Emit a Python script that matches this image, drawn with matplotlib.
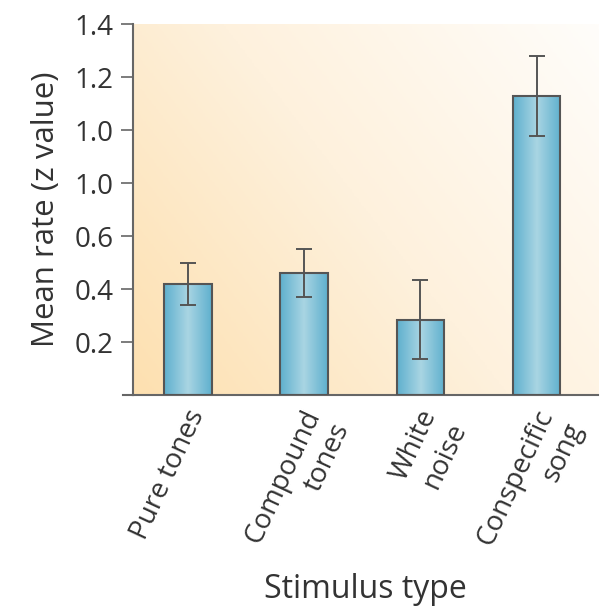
import matplotlib.pyplot as plt
import matplotlib.transforms as mtransforms
import numpy as np
from matplotlib.colors import LinearSegmentedColormap

# Data
categories = ["Pure tones", "Compound\ntones", "White\nnoise", "Conspecific\nsong"]
means = [0.42, 0.46, 0.285, 1.13]
errors = [0.08, 0.09, 0.15, 0.15]
ytick_values = [0.2, 0.4, 0.6, 0.8, 1.0, 1.2, 1.4]
ytick_labels = ["0.2", "0.4", "0.6", "1.0", "1.0", "1.2", "1.4"]

TEXT = "#333333"
EDGE = "#555555"

plt.rcParams["font.family"] = ["Open Sans", "DejaVu Sans"]

fig = plt.figure(figsize=(6, 6.06), dpi=100)
ax = fig.add_axes([0.222, 0.348, 0.775, 0.612])

x = np.arange(len(categories))
width = 0.41
xlim = (-0.47, 3.53)
ax.set_xlim(*xlim)
ax.set_ylim(0, 1.4)

# Background: orange in the lower left fading to white at the upper right
bg_cmap = LinearSegmentedColormap.from_list("bg", ["#fde0b0", "#fef1dd", "#fffdfa"])
gx, gy = np.meshgrid(np.linspace(0, 1, 200), np.linspace(0, 1, 200))
grad = np.clip(0.62 * gx + 0.38 * gy, 0, 1)
ax.imshow(grad, cmap=bg_cmap, extent=[xlim[0], xlim[1], 0, 1.4], origin="lower",
          aspect="auto", zorder=0, vmin=0, vmax=1)

# Bars with a cylindrical shading
bar_cmap = LinearSegmentedColormap.from_list("bar", ["#5fb0ce", "#a9d5e3", "#5fb0ce"])
shade = np.linspace(0, 1, 100).reshape(1, -1)
bars = ax.bar(x, means, width=width, color="none", edgecolor=EDGE, linewidth=1.5, zorder=3)
for bar in bars:
    x0, w, h = bar.get_x(), bar.get_width(), bar.get_height()
    ax.imshow(shade, cmap=bar_cmap, extent=[x0, x0 + w, 0, h], aspect="auto", zorder=2)

ax.errorbar(x, means, yerr=errors, fmt="none", ecolor=EDGE, elinewidth=1.4,
            capsize=6, capthick=1.4, zorder=4)
ax.set_xlim(*xlim)
ax.set_ylim(0, 1.4)

for side in ["top", "right"]:
    ax.spines[side].set_visible(False)
for side in ["left", "bottom"]:
    ax.spines[side].set_color("#666666")
    ax.spines[side].set_linewidth(1.5)
# bottom line runs slightly past the left spine
ax.plot([xlim[0] - 0.09, xlim[0]], [0, 0], color="#666666", lw=1.5, clip_on=False, zorder=5)

ax.set_yticks(ytick_values)
ax.set_yticklabels(ytick_labels, fontsize=20, color=TEXT)
ax.tick_params(axis="y", length=9, width=1.2, color="#666666", pad=5)

ax.set_xticks(x)
ax.set_xticklabels(categories, fontsize=20, color=TEXT, rotation=65, ha="right",
                   va="top", rotation_mode="anchor", multialignment="right",
                   linespacing=1.2)
ax.tick_params(axis="x", length=0, pad=7)
shift = mtransforms.ScaledTranslation(-2 / 72, 0, fig.dpi_scale_trans)
for lbl in ax.get_xticklabels():
    lbl.set_transform(lbl.get_transform() + shift)

ax.set_ylabel("Mean rate (z value)", fontsize=22.5, color=TEXT, labelpad=10)
ax.set_xlabel("Stimulus type", fontsize=23, color=TEXT)
ax.xaxis.set_label_coords(0.5, -0.48)

fig.savefig("out.png", dpi=100)
